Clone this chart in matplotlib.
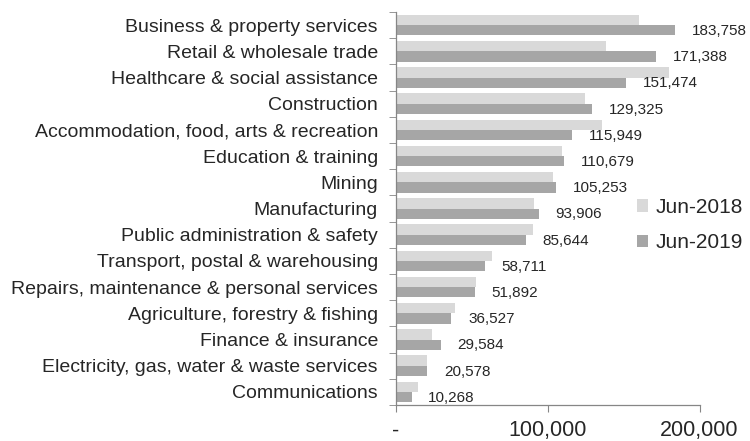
import matplotlib
matplotlib.use("Agg")
import matplotlib.pyplot as plt
import numpy as np
from matplotlib.ticker import FuncFormatter

categories = [
    "Business & property services",
    "Retail & wholesale trade",
    "Healthcare & social assistance",
    "Construction",
    "Accommodation, food, arts & recreation",
    "Education & training",
    "Mining",
    "Manufacturing",
    "Public administration & safety",
    "Transport, postal & warehousing",
    "Repairs, maintenance & personal services",
    "Agriculture, forestry & fishing",
    "Finance & insurance",
    "Electricity, gas, water & waste services",
    "Communications",
]
jun2018 = [160000, 138300, 180000, 124300, 135700, 109400, 103400, 90900,
           90200, 63300, 52700, 38700, 23900, 20200, 14300]
jun2019 = [183758, 171388, 151474, 129325, 115949, 110679, 105253, 93906,
           85644, 58711, 51892, 36527, 29584, 20578, 10268]
series_names = ["Jun-2018", "Jun-2019"]
xticks = [0, 100000, 200000]

plt.rcParams['font.family'] = ['Liberation Sans', 'DejaVu Sans']
fig = plt.figure(figsize=(7.5, 4.41), dpi=100)
ax = fig.add_axes([396/750, 1 - 405/441, (699.5 - 396)/750, (405 - 12)/441])

n = len(categories)
y = np.arange(n)
h = 0.395
c18 = "#d9d9d9"
c19 = "#a6a6a6"
ax.barh(y - h/2, jun2018, height=h, color=c18, label=series_names[0])
ax.barh(y + h/2, jun2019, height=h, color=c19, label=series_names[1])

for yi, v in zip(y, jun2019):
    ax.annotate(f"{v:,}", xy=(v, yi + h/2 + 0.03), xytext=(12, 0),
                textcoords="offset points", va="center", ha="left",
                fontsize=11, color="#262626")

ax.set_ylim(n - 0.5, -0.5)
ax.set_xlim(0, 200000)
ax.set_xticks(xticks)
ax.xaxis.set_major_formatter(FuncFormatter(lambda v, p: "-" if v == 0 else f"{int(v):,}"))
ax.set_yticks(y)
ax.set_yticklabels(categories, fontsize=14, color="#262626")
ax.set_yticks(np.arange(-0.5, n, 1), minor=True)
ax.tick_params(axis="y", which="major", length=0, pad=13)
ax.tick_params(axis="y", which="minor", length=5, color="#868686", direction="out")
ax.tick_params(axis="x", which="major", length=5, color="#868686", labelsize=15.5,
               labelcolor="#262626", pad=6)
for s in ["top", "right"]:
    ax.spines[s].set_visible(False)
for s in ["left", "bottom"]:
    ax.spines[s].set_color("#868686")
    ax.spines[s].set_linewidth(0.9)

leg = fig.legend(loc="center left", bbox_to_anchor=(622/750, 1 - 225/441),
                 frameon=False, fontsize=15, handlelength=0.55, handleheight=0.55,
                 handletextpad=0.35, labelspacing=0.8, borderpad=0.2)
for t in leg.get_texts():
    t.set_color("#262626")

fig.savefig("out.png", dpi=100)
